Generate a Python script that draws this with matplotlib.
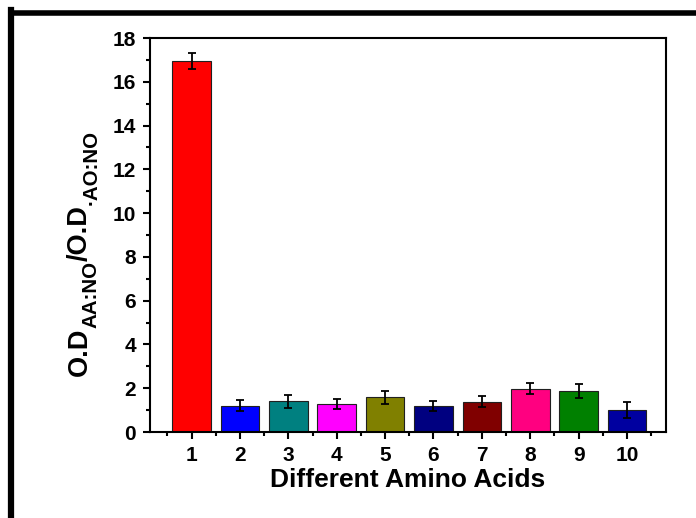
import numpy as np
import matplotlib
matplotlib.use("Agg")
import matplotlib.pyplot as plt
from matplotlib.lines import Line2D
from matplotlib.font_manager import FontProperties
from matplotlib.ticker import MultipleLocator

plt.rcParams["font.family"] = ["Liberation Sans", "DejaVu Sans"]
plt.rcParams["font.weight"] = "bold"

# data
amino_acids = [1, 2, 3, 4, 5, 6, 7, 8, 9, 10]
ratios = [16.95, 1.2, 1.4, 1.29, 1.59, 1.2, 1.39, 1.98, 1.88, 1.0]
errors = [0.35, 0.25, 0.3, 0.23, 0.3, 0.22, 0.27, 0.24, 0.32, 0.35]
bar_colors = ["#FF0000", "#0000FF", "#008080", "#FF00FF", "#808000",
              "#000080", "#800000", "#FF0080", "#008000", "#0000A0"]

# y label pieces: (text, is_subscript)
ylabel_parts = [("O.D", False), ("AA:NO", True), ("/O.D", False), ("·AO:NO", True)]

W, H = 696, 518
fig = plt.figure(figsize=(W / 100, H / 100), dpi=100)
ax = fig.add_axes([150 / W, 1 - 432 / H, 515.7 / W, 394 / H])

ax.bar(amino_acids, ratios, width=0.8, color=bar_colors,
       edgecolor="#202020", linewidth=0.8)
ax.errorbar(amino_acids, ratios, yerr=errors, fmt="none", ecolor="black",
            elinewidth=1.3, capsize=3.2, capthick=1.3)

ax.set_xlim(0.14, 10.8)
ax.set_ylim(0, 18)
ax.set_xticks(amino_acids)
ax.xaxis.set_minor_locator(MultipleLocator(1, offset=0.5))
ax.yaxis.set_major_locator(MultipleLocator(2))
ax.yaxis.set_minor_locator(MultipleLocator(1))

for s in ax.spines.values():
    s.set_linewidth(1.5)
ax.tick_params(which="major", direction="out", length=5, width=1.5,
               labelsize=15, pad=5)
ax.tick_params(axis="x", which="major", pad=5)
ax.tick_params(which="minor", direction="out", length=3, width=1.5)
ax.tick_params(axis="x", which="both", top=False)
ax.tick_params(axis="y", which="both", right=False)
for lab in ax.get_xticklabels() + ax.get_yticklabels():
    lab.set_fontweight("bold")

ax.set_xlabel("Different Amino Acids", fontsize=19, fontweight="bold", labelpad=2)

# y label built from pieces so the subscripts sit like in the original
renderer = fig.canvas.get_renderer()
main_fp = FontProperties(family="Liberation Sans", weight="bold", size=19.5)
sub_fp = FontProperties(family="Liberation Sans", weight="bold", size=14.8)
pos = H - 376.0          # start of the label (pixels from the bottom)
base_x = 86.7            # baseline of the main text (pixels from the left)
for txt, is_sub in ylabel_parts:
    fp = sub_fp if is_sub else main_fp
    bx = base_x + (10 if is_sub else 0)
    fig.text(bx / W, pos / H, txt, fontproperties=fp, rotation=90,
             rotation_mode="anchor", ha="left", va="baseline")
    w, _, _ = renderer.get_text_width_height_descent(txt, fp, ismath=False)
    pos += w

# outer frame (left and top only)
fig.add_artist(Line2D([11 / W, 11 / W], [0, 1 - 10 / H], color="black",
                      linewidth=4.5, solid_capstyle="projecting"))
fig.add_artist(Line2D([11 / W, 1], [1 - 12.5 / H, 1 - 12.5 / H], color="black",
                      linewidth=4.0, solid_capstyle="butt"))

fig.savefig("out.png", dpi=100)
